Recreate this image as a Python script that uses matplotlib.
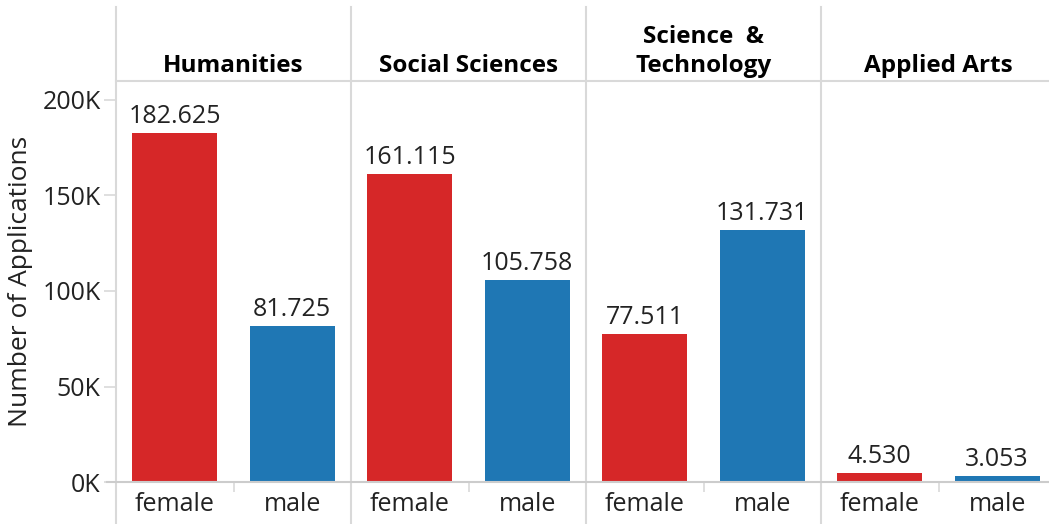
import matplotlib.pyplot as plt
from matplotlib.lines import Line2D

plt.rcParams['font.family'] = ['Open Sans', 'DejaVu Sans']

# data
fields = ['Humanities', 'Social Sciences', 'Science  &\nTechnology', 'Applied Arts']
genders = ['female', 'male']
female = [182625, 161115, 77511, 4530]
male = [81725, 105758, 131731, 3053]
labels_f = ['182.625', '161.115', '77.511', '4.530']
labels_m = ['81.725', '105.758', '131.731', '3.053']
yticks = [0, 50000, 100000, 150000, 200000]
ytick_labels = ['0K', '50K', '100K', '150K', '200K']

colors = ['#d62728', '#1f77b4']
grid_c = '#d9d9d9'
text_c = '#222222'

W, H = 1049, 524
fig = plt.figure(figsize=(W / 100, H / 100), dpi=100)

# layout in pixels
left0 = 116
panel_w = 235
base_y = 482
head_y = 81
top_y = 7

def fx(px):
    return px / W

def fy(py):
    return 1 - py / H

ymax = (base_y - head_y) / ((base_y - 100) / 200000)

for i, field in enumerate(fields):
    x0 = left0 + i * panel_w
    ax = fig.add_axes([fx(x0), fy(base_y), panel_w / W, (base_y - head_y) / H])
    vals = [female[i], male[i]]
    labs = [labels_f[i], labels_m[i]]
    bars = ax.bar([0, 1], vals, width=0.72, color=colors)
    for b, v, t in zip(bars, vals, labs):
        ax.annotate(t, (b.get_x() + b.get_width() / 2, v), xytext=(0, 3),
                    textcoords='offset points', ha='center', va='bottom',
                    fontsize=18, color=text_c)
    ax.set_xlim(-0.5, 1.5)
    ax.set_ylim(0, ymax)
    for s in ax.spines.values():
        s.set_visible(False)
    ax.set_xticks([0, 1])
    ax.set_xticklabels(genders, fontsize=18, color=text_c)
    ax.tick_params(axis='x', length=0, pad=7)
    ax.set_xticks([0.5], minor=True)
    ax.tick_params(axis='x', which='minor', length=7, color=grid_c, width=1.2)
    if i == 0:
        ax.set_yticks(yticks)
        ax.set_yticklabels(ytick_labels, fontsize=18, color=text_c)
        ax.tick_params(axis='y', length=9, color=grid_c, width=1.2, pad=2)
    else:
        ax.set_yticks([])
    ax.text(0.5, 1.0 + 3 / (base_y - head_y), field, transform=ax.transAxes,
            ha='center', va='bottom', fontsize=17.5, fontweight='bold',
            color='black', linespacing=1.25)
    fig.add_artist(Line2D([fx(x0), fx(x0)], [fy(top_y), fy(H)], color=grid_c, lw=1.5))

# header line and baseline
fig.add_artist(Line2D([fx(left0), 1], [fy(head_y), fy(head_y)], color=grid_c, lw=1.5))
fig.add_artist(Line2D([fx(107), 1], [fy(base_y), fy(base_y)], color='#cccccc', lw=1.5))

fig.text(fx(21), fy(281), 'Number of Applications', rotation=90, ha='center',
         va='center', fontsize=19, color=text_c)

fig.savefig('out.png', dpi=100)
